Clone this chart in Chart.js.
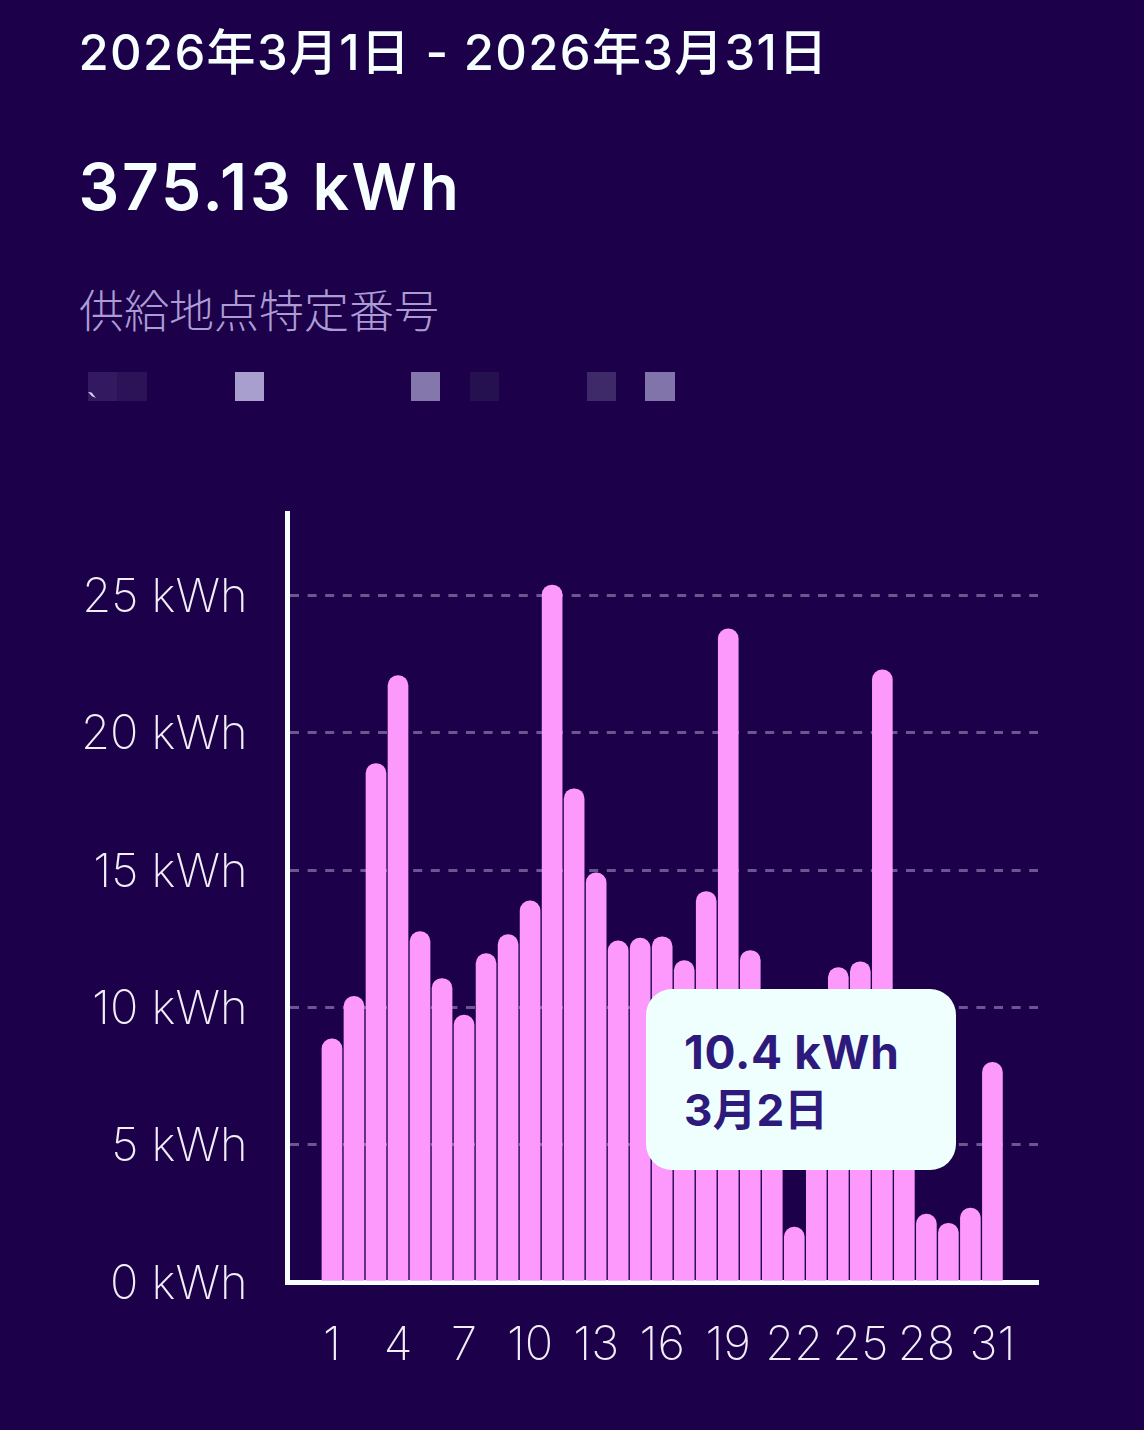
<!DOCTYPE html>
<html lang="ja">
<head>
<meta charset="utf-8">
<style>
html,body{margin:0;padding:0;background:#1c0049;width:1144px;height:1430px;overflow:hidden}
body{position:relative;font-family:Inter,"Noto Sans CJK JP",sans-serif}
.t{position:absolute;white-space:nowrap}
#wrap{position:absolute;left:0;top:480px;width:1144px;height:950px}
.sq{position:absolute;top:372px;height:29px}
#chip{position:absolute;left:88px;top:392px;width:8px;height:6px;background:#d9d2ea;clip-path:polygon(0 0,45% 10%,100% 100%,50% 70%)}
#tip{position:absolute;left:646px;top:989px;width:310px;height:181px;border-radius:26px;background:#effffd;color:#2d1a7c}
#tip div{position:absolute;left:38px;white-space:nowrap;font-weight:700}
</style>
</head>
<body>
<div class="t" id="range" style="left:78.5px;top:23px;line-height:60px;font-size:49px;font-weight:500;letter-spacing:1.3px;color:#f6fffd"></div>
<div class="t" id="total" style="left:78.5px;top:150px;line-height:74px;font-size:64px;font-weight:600;letter-spacing:2.8px;color:#f6fffd"></div>
<div class="t" id="label" style="left:79px;top:282px;line-height:60px;font-size:45px;font-weight:300;color:#ab9cd4"></div>
<div id="mask"></div>
<div id="chip"></div>
<div id="wrap"><canvas id="c"></canvas></div>
<div id="tip"><div id="tipV" style="top:33px;line-height:60px;font-size:46px;letter-spacing:.7px"></div><div id="tipD" style="top:91px;line-height:60px;font-size:44px"></div></div>
<script src="https://cdn.jsdelivr.net/npm/chart.js@4/dist/chart.umd.min.js"></script>
<script>
const rangeText = "2026年3月1日 - 2026年3月31日";
const totalText = "375.13 kWh";
const idLabel = "供給地点特定番号";
const days = [1,2,3,4,5,6,7,8,9,10,11,12,13,14,15,16,17,18,19,20,21,22,23,24,25,26,27,28,29,30,31];
const kwh = [8.85,10.4,18.88,22.08,12.76,11.05,9.72,11.96,12.65,13.88,25.38,17.96,14.9,12.42,12.52,12.57,11.7,14.22,23.78,12.07,7.8,2,7.7,11.45,11.66,22.29,7.83,2.47,2.14,2.69,8],
      xTickDays = [1,4,7,10,13,16,19,22,25,28,31];
const yTickValues = [0,5,10,15,20,25];
const tipIndex = 1;
const tipMonth = "3月";
const maskX = [88,117,235,411,470,587,645];
const maskW = [29,30,29,29,29,29,30];
const maskC = ["#33195f","#2c1257","#a99fcf","#8377ab","#251050","#3f2a69","#8074aa"];

document.getElementById('range').textContent = rangeText;
document.getElementById('total').textContent = totalText;
document.getElementById('label').textContent = idLabel;
document.getElementById('tipV').textContent = kwh[tipIndex] + " kWh";
document.getElementById('tipD').textContent = tipMonth + days[tipIndex] + "日";
const mask = document.getElementById('mask');
maskX.forEach((x,i)=>{const d=document.createElement('div');d.className='sq';d.style.left=x+'px';d.style.width=maskW[i]+'px';d.style.background=maskC[i];mask.appendChild(d);});

const tickFont = {family:'Inter,"Noto Sans CJK JP",sans-serif',size:47,weight:'200'};
new Chart(document.getElementById('c'),{
  type:'bar',
  data:{datasets:[{
    data:days.map((d,i)=>({x:d,y:kwh[i]})),
    backgroundColor:'#fd98fd',
    barThickness:20,
    borderRadius:{topLeft:10,topRight:10,bottomLeft:0,bottomRight:0},
    borderSkipped:false
  }]},
  options:{
    responsive:true,maintainAspectRatio:false,animation:false,
    layout:{padding:{top:33,right:106,left:0,bottom:0}},
    plugins:{legend:{display:false},tooltip:{enabled:false}},
    scales:{
      x:{type:'linear',offset:false,min:-1.02,max:33.07,
        afterBuildTicks:s=>{s.ticks=xTickDays.map(v=>({value:v}));},
        afterFit:s=>{s.height=148;s.paddingLeft=0;s.paddingRight=0;},
        grid:{display:false},
        border:{display:true,color:'#f6fffd',width:5},
        ticks:{color:'#f2eef8',font:tickFont,padding:28,maxRotation:0,autoSkip:false,callback:v=>String(v)}},
      y:{type:'linear',min:0,max:28,
        afterBuildTicks:s=>{s.ticks=yTickValues.map(v=>({value:v}));},
        afterFit:s=>{s.width=287.5;s.paddingTop=0;s.paddingBottom=0;},
        grid:{color:c=>c.tick&&c.tick.value===0?'rgba(0,0,0,0)':'#6a5790',lineWidth:3,drawTicks:false,tickLength:0},
        border:{display:true,color:'#f6fffd',width:5,dash:[9,8.6]},
        ticks:{color:'#f2eef8',font:tickFont,padding:40,labelOffset:2.5,autoSkip:false,callback:v=>v+' kWh'}}
    }
  }
});
</script>
</body>
</html>
